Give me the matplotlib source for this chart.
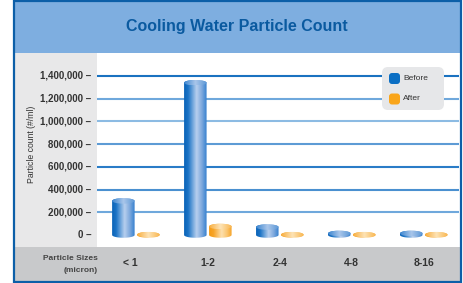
import numpy as np
import matplotlib.pyplot as plt
import matplotlib.transforms as mtransforms
from matplotlib.patches import Rectangle, Ellipse, FancyBboxPatch, PathPatch
from matplotlib.path import Path
from matplotlib.colors import to_rgb

# data
title = "Cooling Water Particle Count"
ylabel = "Particle count (#/ml)"
xlabel_lines = ["Particle Sizes", "(micron)"]
categories = ["< 1", "1-2", "2-4", "4-8", "8-16"]
series_names = ["Before", "After"]
before = [300000, 1340000, 70000, 14000, 14000]
after = [3000, 75000, 3000, 3000, 3000]
yticks = [0, 200000, 400000, 600000, 800000, 1000000, 1200000, 1400000]

plt.rcParams['font.family'] = ['Liberation Sans', 'DejaVu Sans']

W, H = 463, 283
fig = plt.figure(figsize=(W / 100, H / 100), dpi=100)

# background layer in pixel coords
bg = fig.add_axes([0, 0, 1, 1], zorder=0)
bg.set_xlim(0, W)
bg.set_ylim(H, 0)
bg.axis('off')

frame_col = '#0c5fa8'
bg.add_patch(Rectangle((14, 1), 446, 52, facecolor='#7eaee0', edgecolor='none'))
bg.add_patch(Rectangle((14, 53), 83, 194, facecolor='#e8e8e9', edgecolor='none'))
bg.add_patch(Rectangle((14, 247), 446, 34, facecolor='#c8c9cb', edgecolor='none'))
bg.add_patch(Rectangle((13.5, 1), 447, 280.5, facecolor='none', edgecolor=frame_col, lw=1.6))

bg.text(237, 26, title, ha='center', va='center', fontsize=11.5, fontweight='bold', color='#0a5aa0')

# plot area
ax = fig.add_axes([97 / W, (H - 247) / H, (459 - 97) / W, (247 - 54) / H], zorder=1)
ax.patch.set_alpha(0)
ax.axis('off')
xlim = (-0.54, 4.49)
ylim = (-105600, 1593000)

px_y = (ylim[1] - ylim[0]) / (247 - 54)   # data units per pixel (y)
px_x = (xlim[1] - xlim[0]) / (459 - 97)   # data units per pixel (x)

grid_cols = ['#1a72c0', '#6fa8dc', '#8cbbe3', '#5d9bd5', '#2a7cc7', '#4a90d0', '#6fa8dc']
for v, c in zip(yticks[:0:-1], grid_cols):
    ax.hlines(v, xlim[0], xlim[1], color=c, lw=1.5, zorder=1)

blue_body = [(0.0, '#0a63b8'), (0.18, '#1c74c6'), (0.55, '#b7cfee'), (0.78, '#7ea9dd'), (1.0, '#3580cf')]
blue_top = [(0.0, '#3d86d0'), (0.5, '#a9c6ea'), (1.0, '#5b97d6')]
orng_body = [(0.0, '#f59a12'), (0.2, '#f7a52a'), (0.55, '#fde0ae'), (0.8, '#fbc56e'), (1.0, '#f6a326')]
orng_top = [(0.0, '#f8ae3e'), (0.5, '#fde3b6'), (1.0, '#f9b64f')]


def gradient(stops, n=64):
    pos = [s[0] for s in stops]
    cols = np.array([to_rgb(s[1]) for s in stops])
    t = np.linspace(0, 1, n)
    arr = np.stack([np.interp(t, pos, cols[:, k]) for k in range(3)], axis=-1)
    return arr[np.newaxis, :, :]


def cylinder(xc, v, w, eh, body, top):
    x0, x1 = xc - w / 2, xc + w / 2
    t_bot = np.linspace(np.pi, 2 * np.pi, 40)
    t_top = np.linspace(0, np.pi, 40)
    pts = [(x0, v), (x0, 0)]
    pts += list(zip(xc + w / 2 * np.cos(t_bot), eh / 2 * np.sin(t_bot)))
    pts += [(x1, v)]
    pts += list(zip(xc + w / 2 * np.cos(t_top), v + eh / 2 * np.sin(t_top)))
    pts.append((x0, v))
    patch = PathPatch(Path(pts, closed=True), facecolor='none', edgecolor='none')
    ax.add_patch(patch)
    im = ax.imshow(gradient(body), extent=[x0, x1, -eh / 2, v + eh / 2],
                   aspect='auto', interpolation='bilinear', origin='lower', zorder=2)
    im.set_clip_path(patch)
    ell = Ellipse((xc, v), w, eh, facecolor='none', edgecolor='none')
    ax.add_patch(ell)
    im2 = ax.imshow(gradient(top), extent=[x0, x1, v - eh / 2, v + eh / 2],
                    aspect='auto', interpolation='bilinear', origin='lower', zorder=3)
    im2.set_clip_path(ell)


bw = 22.5 * px_x
off = 12.5 * px_x
eh = 5.5 * px_y
for i in range(len(categories)):
    cylinder(i - off, before[i], bw, eh, blue_body, blue_top)
    cylinder(i + off, after[i], bw, eh, orng_body, orng_top)

ax.set_xlim(*xlim)
ax.set_ylim(*ylim)

# y tick labels in the grey panel
ytr = mtransforms.blended_transform_factory(bg.transData, ax.transData)
for v in yticks:
    ax.text(91, v, f"{v:,} \u2013", transform=ytr, ha='right', va='center',
            fontsize=7, fontweight='bold', color='#333333', clip_on=False)
bg.text(31, 144, ylabel, rotation=90, ha='center', va='center', fontsize=6.2, color='#333333')

# category labels in the bottom band
xtr = mtransforms.blended_transform_factory(ax.transData, bg.transData)
for i, c in enumerate(categories):
    ax.text(i - (0.08 if i == 0 else 0), 263, c, transform=xtr, ha='center', va='center',
            fontsize=7.5, fontweight='bold', color='#333333', clip_on=False)
bg.text(98, 258, xlabel_lines[0], ha='right', va='center', fontsize=6, fontweight='bold', color='#444444')
bg.text(98, 270, xlabel_lines[1], ha='right', va='center', fontsize=6, fontweight='bold', color='#444444')

# legend box
ax.add_patch(FancyBboxPatch((382, 67), 62, 43, boxstyle="round,pad=0,rounding_size=6",
                            facecolor='#e6e7e9', edgecolor='none', transform=bg.transData,
                            zorder=5, clip_on=False))
for name, col, yc in zip(series_names, ['#0b6fc4', '#f9a51a'], [78.5, 99]):
    ax.add_patch(FancyBboxPatch((389, yc - 5.5), 11, 11, boxstyle="round,pad=0,rounding_size=3",
                                facecolor=col, edgecolor='none', transform=bg.transData,
                                zorder=6, clip_on=False))
    ax.text(403, yc, name, transform=bg.transData, ha='left', va='center', fontsize=6,
            color='#333333', zorder=6, clip_on=False)

fig.savefig("out.png", dpi=100)
